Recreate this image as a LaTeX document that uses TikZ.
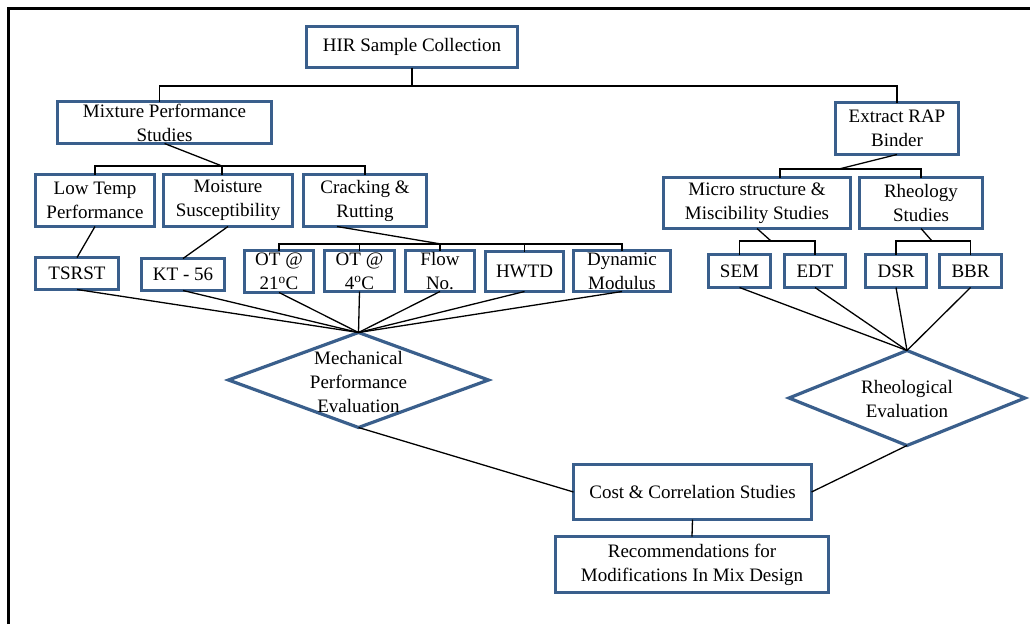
\documentclass[tikz,border=0pt]{standalone}
\usepackage{fontspec}
\setmainfont{Liberation Serif}
\usetikzlibrary{shapes.geometric}
\definecolor{boxblue}{RGB}{58,95,140}
\tikzset{
  blk/.style={draw=boxblue, line width=3.2pt, fill=white, align=center, inner sep=0pt, outer sep=0pt, font=\fontsize{19}{24}\selectfont},
  dmd/.style={diamond, draw=boxblue, line width=3.2pt, fill=white, inner sep=0pt, outer sep=0pt},
  lbl/.style={align=center, inner sep=0pt, font=\fontsize{19}{24}\selectfont},
  conn/.style={line width=1.3pt, black},
  sz/.style 2 args={minimum width=#1pt, minimum height=#2pt}
}

\begin{document}
\begin{tikzpicture}[x=1pt,y=-1pt]
  \useasboundingbox (0,0) rectangle (1030,624);
  \draw[line width=3pt] (8.5,624) -- (8.5,8.5) -- (1030,8.5);

  \node[blk, sz={211}{41}] (hir) at (412,47) {HIR Sample Collection};
  \node[blk, sz={214}{42}] (mix) at (164.5,122.5) {Mixture Performance\\Studies};
  \node[blk, sz={123}{52}] (rap) at (897,128.5) {Extract RAP\\Binder};

  \node[blk, sz={119}{52}] (low) at (95,200.5) {Low Temp\\Performance};
  \node[blk, sz={129}{52}] (moist) at (228,200.5) {Moisture\\Susceptibility};
  \node[blk, sz={123}{52}] (crack) at (365,200.5) {Cracking \&\\Rutting};
  \node[blk, sz={187}{51}] (micro) at (757,203) {Micro structure \&\\Miscibility Studies};
  \node[blk, sz={123}{51}] (rheo) at (921,203) {Rheology\\Studies};

  \node[blk, sz={83}{32}] (tsrst) at (77,273.5) {TSRST};
  \node[blk, sz={83}{32}] (kt) at (183,274.5) {KT - 56};
  \node[blk, sz={69}{42}] (ot21) at (279,271.5) {OT @\\21\textsuperscript{o}C};
  \node[blk, sz={70}{41}] (ot4) at (359.5,271) {OT @\\4\textsuperscript{o}C};
  \node[blk, sz={69}{41}] (flow) at (440,271) {Flow\\No.};
  \node[blk, sz={78}{40}] (hwtd) at (524.5,271.5) {HWTD};
  \node[blk, sz={97}{41}] (dyn) at (622,271) {Dynamic\\Modulus};
  \node[blk, sz={62}{33}] (sem) at (739.5,271) {SEM};
  \node[blk, sz={61}{33}] (edt) at (815,271) {EDT};
  \node[blk, sz={61}{33}] (dsr) at (896,271) {DSR};
  \node[blk, sz={62}{33}] (bbr) at (970.5,271) {BBR};

  \node[dmd, sz={260}{95}] (mech) at (358.5,380) {};
  \node[lbl] at (358.5,382) {Mechanical\\Performance\\Evaluation};
  \node[dmd, sz={236}{95}] (rhev) at (907,398) {};
  \node[lbl] at (907,399) {Rheological\\Evaluation};

  \node[blk, sz={238}{55}] (cost) at (692.5,492) {Cost \& Correlation Studies};
  \node[blk, sz={273}{56}] (rec) at (692,564.5) {Recommendations for\\Modifications In Mix Design};

  \coordinate (j1) at (412,86);
  \coordinate (j2) at (222,166);
  \coordinate (j3) at (441,244);
  \coordinate (j4) at (839,169);
  \coordinate (j5) at (771,241);
  \coordinate (j6) at (932,241);

  \draw[conn] (hir.south) -- (j1);
  \draw[conn] (j1) -| ([xshift=-5pt]mix.north);
  \draw[conn] (j1) -| (rap.north);

  \draw[conn] (mix.south) -- (j2);
  \draw[conn] (j2) -| (low.north);
  \draw[conn] (j2) -| (crack.north);
  \draw[conn] (j2) -- (j2 |- moist.north);

  \draw[conn] ([xshift=-28pt]crack.south) -- (j3);
  \draw[conn] (j3) -| (ot21.north);
  \draw[conn] (j3) -| (ot4.north);
  \draw[conn] (j3) -| (flow.north);
  \draw[conn] (j3) -| (hwtd.north);
  \draw[conn] (j3) -| (dyn.north);

  \draw[conn] (rap.south) -- (j4);
  \draw[conn] (j4) -| ([xshift=23pt]micro.north);
  \draw[conn] (j4) -| (rheo.north);
  \draw[conn] (micro.south) -- (j5);
  \draw[conn] (j5) -| (sem.north);
  \draw[conn] (j5) -| (edt.north);
  \draw[conn] (rheo.south) -- (j6);
  \draw[conn] (j6) -| (dsr.north);
  \draw[conn] (j6) -| (bbr.north);

  \path[conn]
    (low.south) edge (tsrst.north)
    (moist.south) edge (kt.north);
  \path[conn]
    (mech.north) edge (tsrst.south) edge (kt.south) edge (ot21.south) edge (ot4.south)
    edge (flow.south) edge (hwtd.south) edge (dyn.south);
  \path[conn]
    (rhev.north) edge (sem.south) edge (edt.south) edge (dsr.south) edge (bbr.south);
  \path[conn]
    (cost.west) edge (mech.south)
    (cost.east) edge (rhev.south)
    (cost.south) edge (rec.north);
\end{tikzpicture}
\end{document}
